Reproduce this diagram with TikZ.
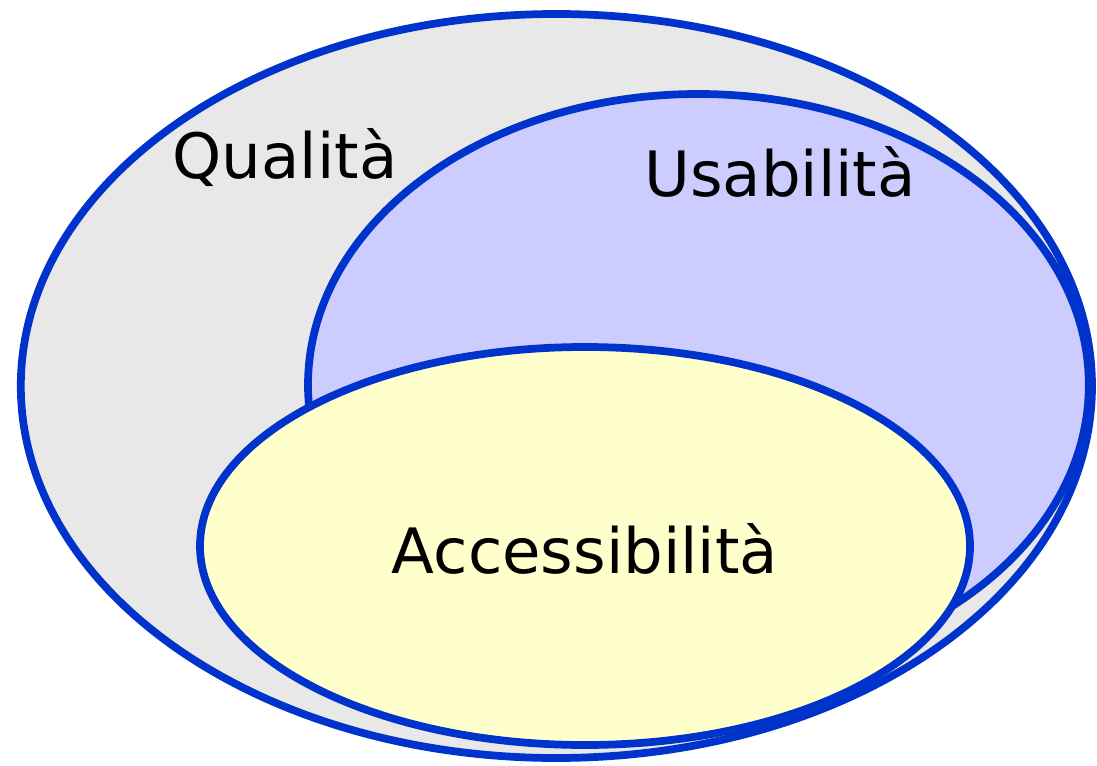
\documentclass[tikz,border=0pt]{standalone}
\usepackage{fontspec}
\setmainfont{DejaVu Sans}
\usepackage{tikz}
\definecolor{vnblue}{RGB}{0, 51, 204}
\definecolor{vngray}{RGB}{232, 232, 232}
\definecolor{vnlilac}{RGB}{204, 204, 255}
\definecolor{vnyellow}{RGB}{255, 255, 204}

\begin{document}
\begin{tikzpicture}[every node/.style={font=\fontsize{44.5}{52}\selectfont, anchor=base}]
\useasboundingbox (0,0) rectangle (27.425,19.125);
\filldraw[fill=vngray, draw=vnblue, line width=5.5pt] (13.91,9.475) ellipse [x radius=13.39, y radius=9.3];
\node (quality) at (7.125,14.65) {Qualità};

\filldraw[fill=vnlilac, draw=vnblue, line width=5.5pt] (17.46,9.5) ellipse [x radius=9.76, y radius=7.275];
\node (usability) at (19.5,14.2) {Usabilità};

\filldraw[fill=vnyellow, draw=vnblue, line width=5.5pt] (14.625,5.475) ellipse [x radius=9.625, y radius=4.975];
\node (access) at (14.625,4.8) {Accessibilità};
\end{tikzpicture}
\end{document}
